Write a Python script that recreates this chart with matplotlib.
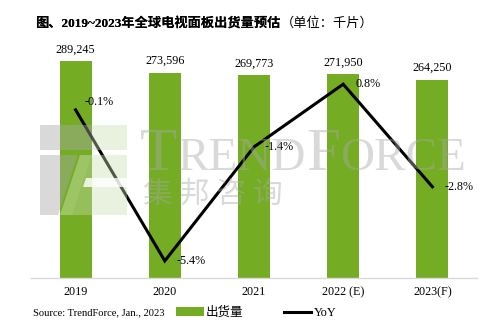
import matplotlib.pyplot as plt
from matplotlib.patches import Polygon
from matplotlib.transforms import IdentityTransform

# Shipment estimates (thousand panels) and year-over-year change (%)
years = ['2019', '2020', '2021', '2022 (E)', '2023(F)']
shipments = [289245, 273596, 269773, 271950, 264250]
yoy = [-0.1, -5.4, -1.4, 0.8, -2.8]

W, H = 493, 328
serif_cjk = ['Liberation Serif', 'Noto Sans CJK SC']
green = '#74ac23'

fig = plt.figure(figsize=(W / 100, H / 100), dpi=100)
ax = fig.add_axes([31 / W, 1 - 278 / H, 446 / W, 228 / H])

x = range(len(years))
bars = ax.bar(x, shipments, width=0.36, color=green, zorder=2)
ax.set_xlim(-0.5, len(years) - 0.5)
ax.set_ylim(0, 303700)
for rect, v in zip(bars, shipments):
    ax.annotate(f'{v:,}', (rect.get_x() + rect.get_width() / 2, v),
                xytext=(0, 4), textcoords='offset points',
                ha='center', va='bottom', fontsize=8.7, family=serif_cjk)

ax.set_xticks(list(x))
ax.set_xticklabels(years, fontsize=8.7, family=serif_cjk)
ax.tick_params(axis='x', length=0, pad=6)
ax.set_yticks([])
for side in ['left', 'right', 'top']:
    ax.spines[side].set_visible(False)
ax.spines['bottom'].set_color('#d9d9d9')
ax.spines['bottom'].set_linewidth(1)

# YoY line on a secondary axis
ax2 = ax.twinx()
ax2.set_ylim(-6, 2)
ax2.axis('off')
ax2.plot(list(x), yoy, color='black', linewidth=2.2, solid_joinstyle='miter', zorder=5)
label_offsets = [(6.5, 6), (8.4, 0), (7.7, 0), (8.6, 0), (8.6, 0)]
for i, v in enumerate(yoy):
    ax2.annotate(f'{v}%', (i, v), xytext=label_offsets[i], textcoords='offset points',
                 ha='left', va='center', fontsize=8.7, family=serif_cjk)

# TrendForce watermark (pixel coordinates, y measured from the top)
def poly(pts, color, alpha):
    p = Polygon([(px, H - py) for px, py in pts], closed=True, transform=IdentityTransform(),
                facecolor=color, edgecolor='none', alpha=alpha, zorder=3)
    fig.add_artist(p)

wm_gray = '#a8a8a8'
wm_green = '#c9dcb0'
poly([(40, 125), (92, 125), (92, 150), (40, 150)], wm_gray, 0.43)
poly([(40, 155), (78, 155), (58, 215), (40, 215)], wm_gray, 0.43)
poly([(92, 125), (127, 125), (127, 150), (92, 150)], wm_green, 0.4)
poly([(92, 155), (127, 155), (127, 215), (72, 215)], wm_green, 0.4)
poly([(80, 155), (92, 155), (72, 215), (60, 215)], 'white', 0.3)
poly([(86, 178), (127, 178), (127, 187), (83, 187)], 'white', 0.8)

fig.canvas.draw()
renderer = fig.canvas.get_renderer()
xpos = 140
for s, size in [('T', 44), ('REND', 34), ('F', 44), ('ORCE', 34)]:
    t = fig.text(xpos / W, 1 - 170 / H, s, fontsize=size, family='Liberation Serif',
                 color=wm_gray, alpha=0.43, va='baseline', ha='left', zorder=3)
    xpos = t.get_window_extent(renderer).x1
fig.text(143 / W, 1 - 194 / H, '集 邦 咨 询', fontsize=21.5, family='Noto Sans CJK SC',
         fontweight='light', color=wm_gray, alpha=0.43, va='center', ha='left', zorder=3)

# Title: bold part followed by the unit in regular weight
title = fig.text(35 / W, 1 - 23 / H, '图、2019~2023年全球电视面板出货量预估', fontsize=9.5,
                 fontweight='bold', family=serif_cjk, va='center', ha='left')
fig.add_artist(title)
ax.annotate('（单位：千片）', xy=(1, 0.5), xycoords=title, fontsize=9.5,
            family=serif_cjk, va='center', ha='left', annotation_clip=False)

fig.text(33 / W, 1 - 313 / H, 'Source: TrendForce, Jan., 2023', fontsize=7.6,
         family=serif_cjk, va='center', ha='left')

handles = [bars, ax2.lines[0]]
fig.legend(handles, ['出货量', 'YoY'], loc='center left', bbox_to_anchor=(176 / W, 1 - 313 / H),
           ncol=2, frameon=False, borderpad=0, borderaxespad=0, handlelength=2.2,
           handletextpad=0.2, columnspacing=3.2, prop={'family': serif_cjk, 'size': 9})

fig.savefig('out.png', dpi=100)
